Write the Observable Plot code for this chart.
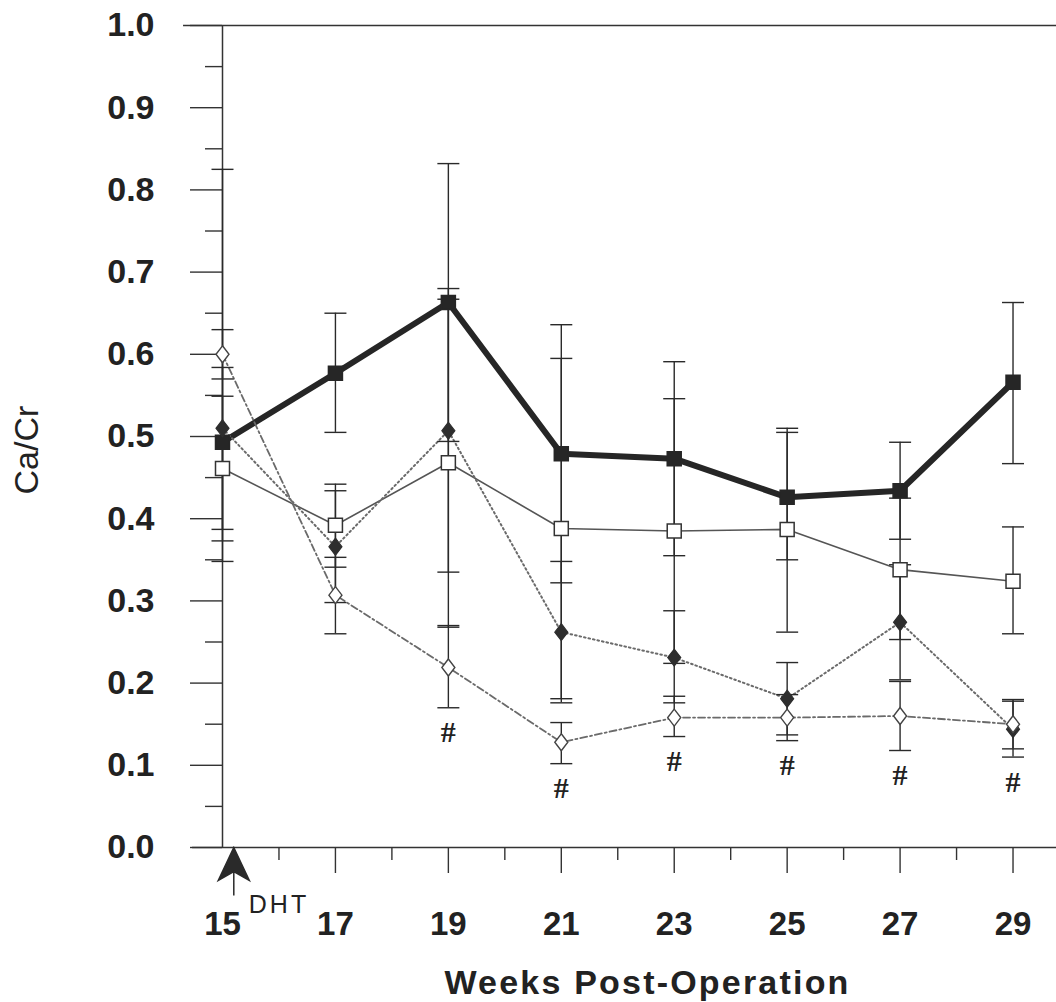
<!DOCTYPE html>
<html>
<head>
<meta charset="utf-8">
<script src="https://cdn.jsdelivr.net/npm/d3@7"></script>
<script src="https://cdn.jsdelivr.net/npm/@observablehq/plot@0.6"></script>
<style>
  body { margin: 0; background: #fff; }
  #chart svg { display: block; background: #fff; }
</style>
</head>
<body>
<div id="chart"></div>
<script>
// Weeks after the operation at which urine Ca/Cr was measured
const weeks = [15, 17, 19, 21, 23, 25, 27, 29];

// Group A: thick solid line, filled squares
const groupAMean = [0.493, 0.577, 0.663, 0.479, 0.473, 0.426, 0.434, 0.566];
const groupALow  = [0.387, 0.505, 0.494, 0.322, 0.355, 0.350, 0.375, 0.467];
const groupAHigh = [0.825, 0.650, 0.832, 0.636, 0.591, 0.510, 0.493, 0.663];

// Group B: thin solid line, open squares
const groupBMean = [0.461, 0.392, 0.468, 0.388, 0.385, 0.387, 0.338, 0.324];
const groupBLow  = [0.373, 0.341, 0.268, 0.181, 0.224, 0.262, 0.253, 0.260];
const groupBHigh = [0.549, 0.442, 0.667, 0.595, 0.546, 0.505, 0.425, 0.390];

// Group C: dotted line, filled diamonds
const groupCMean = [0.510, 0.366, 0.507, 0.262, 0.231, 0.181, 0.274, 0.144];
const groupCLow  = [0.348, 0.298, 0.335, 0.176, 0.176, 0.137, 0.204, 0.110];
const groupCHigh = [0.584, 0.434, 0.680, 0.348, 0.288, 0.225, 0.344, 0.180];

// Group D: dash-dot line, open diamonds
const groupDMean = [0.600, 0.307, 0.219, 0.128, 0.158, 0.158, 0.160, 0.150];
const groupDLow  = [0.570, 0.260, 0.170, 0.102, 0.135, 0.130, 0.118, 0.120];
const groupDHigh = [0.630, 0.353, 0.270, 0.152, 0.184, 0.186, 0.202, 0.178];

// Weeks flagged with "#"
const flaggedWeeks = [19, 21, 23, 25, 27, 29];

// Treatment start marker
const treatment = [{week: 15.2, label: "DHT"}];

// Axis ticks
const yMajorTicks = d3.range(0, 11).map(i => i / 10);
const yMinorTicks = d3.range(0, 10).map(i => i / 10 + 0.05);
const xMajorTicks = [17, 19, 21, 23, 25, 27, 29];
const xMinorTicks = [16, 18, 20, 22, 24, 26, 28];
const xLabelTicks = [15, 17, 19, 21, 23, 25, 27, 29];

// Horizontal extent of the frame lines (weeks)
const topRuleStart = 14.31;
const baseRuleStart = 14.47;
const frameEnd = 29.77;

// Marker shapes
const squareSymbol = {draw(c) { c.rect(-7, -7, 14, 14); }};
const diamondSymbol = {draw(c) { c.moveTo(0, -8.5); c.lineTo(6.5, 0); c.lineTo(0, 8.5); c.lineTo(-6.5, 0); c.closePath(); }};
const capSymbol = {draw(c) { c.moveTo(-11, 0); c.lineTo(11, 0); }};
const arrowSymbol = {draw(c) {
  c.moveTo(0, 0); c.lineTo(15.5, 33); c.lineTo(0, 24); c.lineTo(-15.5, 33); c.closePath();
  c.moveTo(0, 24); c.lineTo(0, 48);
}};

const groups = [
  {name: "A", mean: groupAMean, low: groupALow, high: groupAHigh,
   line: {stroke: "#262626", strokeWidth: 6, strokeLinejoin: "miter"},
   marker: {symbol: squareSymbol, fill: "#262626", stroke: "#262626"}},
  {name: "B", mean: groupBMean, low: groupBLow, high: groupBHigh,
   line: {stroke: "#555", strokeWidth: 1.6},
   marker: {symbol: squareSymbol, fill: "#fff", stroke: "#333", strokeWidth: 1.5}},
  {name: "C", mean: groupCMean, low: groupCLow, high: groupCHigh,
   line: {stroke: "#6a6a6a", strokeWidth: 2, strokeDasharray: "1.6,3"},
   marker: {symbol: diamondSymbol, fill: "#2e2e2e", stroke: "#2e2e2e", strokeWidth: 1.2}},
  {name: "D", mean: groupDMean, low: groupDLow, high: groupDHigh,
   line: {stroke: "#6a6a6a", strokeWidth: 1.8, strokeDasharray: "7,3,2,3"},
   marker: {symbol: diamondSymbol, fill: "#fff", stroke: "#444", strokeWidth: 1.4}}
];

const rows = groups.flatMap(g => weeks.map((w, i) => ({
  group: g.name, week: w, mean: g.mean[i], low: g.low[i], high: g.high[i]
})));

const flags = flaggedWeeks.map(w => ({
  week: w,
  floor: d3.min(rows.filter(r => r.week === w), r => r.low)
}));

const ink = "#222";
const font = "'Liberation Sans', Arial, sans-serif";
const xTitle = "Weeks Post-Operation";
const yTitle = "Ca/Cr";

const chart = Plot.plot({
  width: 1056,
  height: 1002,
  marginTop: 25,
  marginBottom: 155,
  marginLeft: 222,
  marginRight: 0,
  style: {fontFamily: font, color: ink, background: "#fff"},
  x: {domain: [15, frameEnd]},
  y: {domain: [0, 1]},
  marks: [
    // frame: top line, baseline and vertical axis
    Plot.ruleY([1], {x1: topRuleStart, x2: frameEnd, stroke: "#333", strokeWidth: 1.5}),
    Plot.ruleY([0], {x1: baseRuleStart, x2: frameEnd, stroke: "#333", strokeWidth: 1.5}),
    Plot.ruleX([15], {y1: 0, y2: 1, stroke: "#333", strokeWidth: 1.5}),

    // y axis
    Plot.axisY({ticks: yMajorTicks, tickSize: 32, tickPadding: 36, tickFormat: d3.format(".1f"),
      fontSize: 34, fontWeight: "bold", stroke: "#333", strokeWidth: 1.4, label: null}),
    Plot.axisY({ticks: yMinorTicks, tickSize: 17, tickFormat: null, text: null,
      stroke: "#333", strokeWidth: 1.4, label: null}),

    // x axis
    Plot.axisX({ticks: xMajorTicks, tickSize: 26, text: null, stroke: "#333", strokeWidth: 1.4, label: null}),
    Plot.axisX({ticks: xMinorTicks, tickSize: 13, text: null, stroke: "#333", strokeWidth: 1.4, label: null}),
    Plot.axisX({ticks: xLabelTicks, tickSize: 0, tickPadding: 64, tickFormat: d3.format("d"),
      fontSize: 33, fontWeight: "bold", label: null}),

    // series lines
    ...groups.map(g => Plot.line(rows.filter(r => r.group === g.name), {x: "week", y: "mean", ...g.line})),

    // error bars
    Plot.ruleX(rows, {x: "week", y1: "low", y2: "high", stroke: "#2a2a2a", strokeWidth: 1.4}),
    Plot.dot(rows, {x: "week", y: "low", symbol: capSymbol, fill: "none", stroke: "#2a2a2a", strokeWidth: 1.4}),
    Plot.dot(rows, {x: "week", y: "high", symbol: capSymbol, fill: "none", stroke: "#2a2a2a", strokeWidth: 1.4}),

    // markers
    ...groups.map(g => Plot.dot(rows.filter(r => r.group === g.name), {x: "week", y: "mean", ...g.marker})),

    // "#" flags under the lowest error bar
    Plot.text(flags, {x: "week", y: "floor", text: () => "#", dy: 25, fontSize: 30, fontWeight: "bold",
      fontFamily: "'Liberation Serif', 'DejaVu Serif', serif", fill: ink}),

    // DHT arrow and label
    Plot.dot(treatment, {x: "week", y: () => 0, symbol: arrowSymbol, fill: "#2a2a2a", stroke: "#2a2a2a", strokeWidth: 1.5}),
    Plot.text(treatment, {x: "week", y: () => 0, text: "label", dx: 15, dy: 65, textAnchor: "start",
      lineAnchor: "bottom", fontSize: 25, fill: ink}),

    // axis titles
    Plot.text([xTitle], {frameAnchor: "bottom", text: d => d, dx: 8, dy: 146,
      lineAnchor: "bottom", fontSize: 34, fontWeight: "bold", fill: ink}),
    Plot.text([yTitle], {frameAnchor: "left", text: d => d, rotate: -90, dx: -195, dy: 58,
      fontSize: 34, fill: ink, fontFamily: "'Liberation Sans Narrow', 'Arial Narrow', 'Liberation Sans', sans-serif"})
  ]
});

// letter spacing for the spaced-out titles
d3.select(chart).selectAll("text")
  .filter(function() { return this.textContent === xTitle; })
  .style("letter-spacing", "2.2px");
d3.select(chart).selectAll("text")
  .filter(function() { return this.textContent === "DHT"; })
  .style("letter-spacing", "3px");
document.getElementById("chart").append(chart);
</script>
</body>
</html>
